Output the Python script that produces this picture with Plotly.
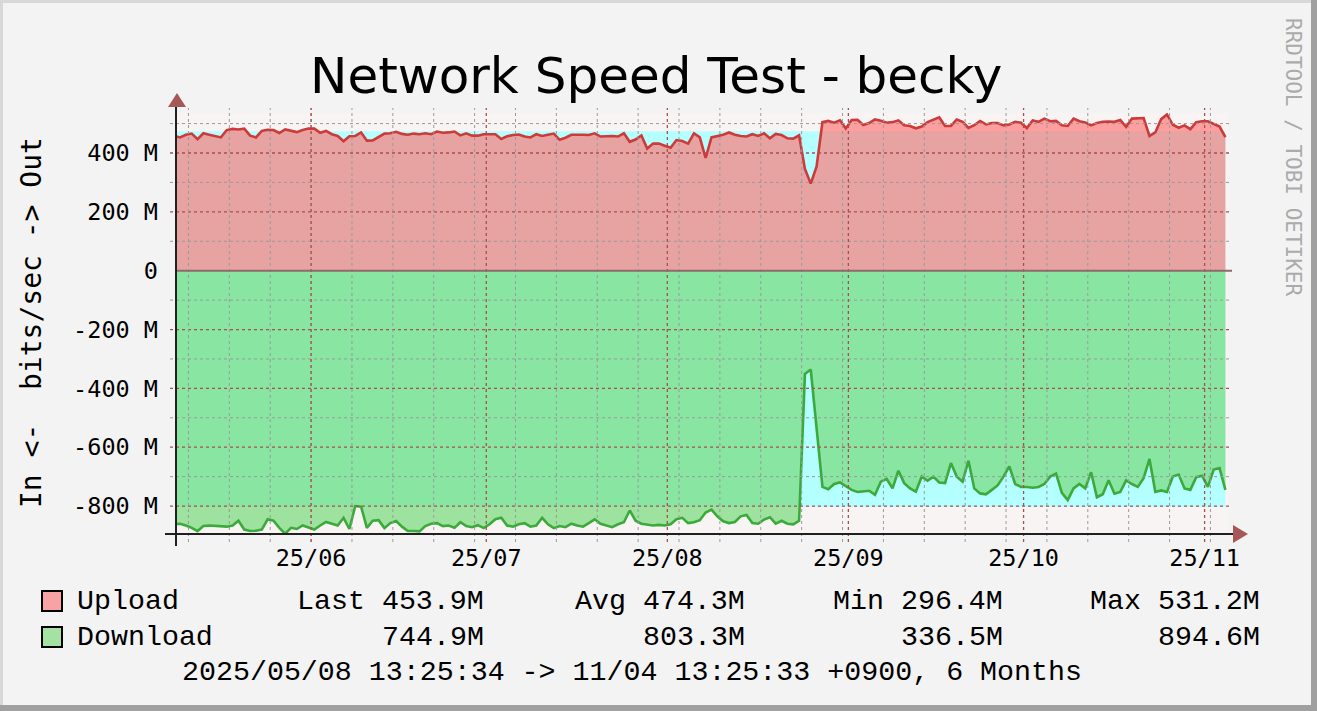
import plotly.graph_objects as go
import pandas as pd
import numpy as np

# ---------------- data (Mbit/s, one sample per day) ----------------
start_time = "2025-05-08 13:25:34"
end_time = "2025-11-04 13:25:33"

upload = [
    458, 453, 462, 466, 447, 467, 462, 458, 453, 478,
    482, 480, 483, 459, 453, 475, 479, 478, 468, 480,
    476, 471, 478, 483, 483, 469, 475, 464, 458, 440,
    457, 458, 470, 442, 443, 455, 466, 467, 472, 465,
    462, 466, 464, 467, 464, 473, 469, 470, 473, 460,
    467, 459, 459, 464, 464, 464, 448, 457, 461, 463,
    456, 453, 464, 458, 462, 466, 445, 452, 462, 463,
    462, 461, 467, 456, 457, 458, 456, 467, 438, 446,
    460, 415, 432, 432, 425, 418, 444, 441, 432, 467,
    453, 383, 453, 458, 462, 470, 462, 458, 456, 464,
    458, 467, 450, 465, 461, 450, 449, 460, 346, 296,
    354, 505, 509, 503, 511, 483, 512, 513, 495, 502,
    514, 510, 503, 505, 511, 494, 492, 484, 490, 505,
    514, 521, 492, 492, 514, 506, 485, 495, 509, 497,
    502, 502, 494, 497, 506, 503, 485, 511, 506, 517,
    508, 509, 494, 492, 517, 508, 504, 494, 502, 506,
    507, 506, 512, 489, 517, 519, 519, 458, 470, 515,
    531, 496, 486, 494, 481, 505, 508, 508, 500, 490,
    454,
]

download = [
    862, 860, 866, 874, 885, 868, 866, 867, 868, 870,
    866, 850, 880, 885, 884, 880, 845, 850, 874, 894,
    874, 878, 866, 874, 880, 866, 854, 860, 866, 840,
    878, 800, 802, 874, 850, 848, 875, 858, 851, 870,
    885, 885, 886, 868, 860, 858, 868, 866, 874, 855,
    868, 872, 865, 875, 862, 845, 840, 866, 870, 862,
    858, 870, 866, 840, 862, 875, 868, 872, 860, 866,
    870, 858, 845, 860, 866, 872, 862, 855, 815, 850,
    860, 862, 866, 864, 866, 862, 845, 840, 858, 855,
    848, 822, 812, 835, 852, 858, 854, 835, 830, 858,
    860, 846, 838, 860, 850, 860, 862, 850, 351, 336,
    544, 735, 743, 725, 720, 733, 745, 752, 751, 748,
    762, 717, 708, 740, 680, 722, 740, 751, 700, 714,
    700, 720, 722, 654, 700, 717, 646, 740, 757, 760,
    745, 730, 700, 665, 725, 735, 735, 738, 735, 725,
    700, 690, 755, 780, 740, 725, 740, 685, 770, 760,
    712, 758, 752, 713, 725, 735, 705, 640, 752, 747,
    752, 700, 693, 740, 745, 702, 697, 735, 676, 671,
    745,
]

upload_avg = 474.3
download_avg = 803.3

y_tick_vals = [400, 200, 0, -200, -400, -600, -800]
y_tick_text = ["400 M", "200 M", "0", "-200 M", "-400 M", "-600 M", "-800 M"]
x_tick_vals = ["2025-06-01", "2025-07-01", "2025-08-01", "2025-09-01", "2025-10-01", "2025-11-01"]
x_tick_text = ["25/06", "25/07", "25/08", "25/09", "25/10", "25/11"]

legend_names = ["Upload", "Download"]
legend_last = ["Last 453.9M", "744.9M"]
legend_avg = ["Avg 474.3M", "803.3M"]
legend_min = ["Min 296.4M", "336.5M"]
legend_max = ["Max 531.2M", "894.6M"]
footer = "2025/05/08 13:25:34 -> 11/04 13:25:33 +0900, 6 Months"
title = "Network Speed Test - becky"
y_title = "In <-  bits/sec -> Out"
watermark = "RRDTOOL / TOBI OETIKER"

# ---------------- layout geometry ----------------
W, H = 1317, 711
L, R, T, B = 176, 1228, 113, 534          # plot area in pixels
PX_PER_DAY = 5.84
X_START_PX = 174.2
Y_TOP, Y_BOT = 536, -895

t0 = pd.Timestamp(start_time)
t1 = pd.Timestamp(end_time)
dates = t0 + pd.to_timedelta(np.arange(len(upload)), unit="D")
x_range = [t0 + pd.Timedelta(days=(L - X_START_PX) / PX_PER_DAY),
           t0 + pd.Timedelta(days=(R - X_START_PX) / PX_PER_DAY)]


def px_x(p):
    return (p - L) / (R - L)


def px_y(p):
    return (B - p) / (B - T)


BACK = "#F3F3F3"
CANVAS = "#F9F4F4"
CYAN = "#B4FFFF"
UP_FILL = "rgba(255,118,118,0.68)"
DN_FILL = "rgba(118,218,122,0.70)"
UP_LINE = "#CC3A3A"
DN_LINE = "#3AAA3A"
MAJOR = "#A8504F"
MINOR = "#9A9A9A"

fig = go.Figure()
span_x = [t0, t1]
fig.add_trace(go.Scatter(x=span_x, y=[upload_avg, upload_avg], mode="lines", line=dict(width=0),
                         fill="tozeroy", fillcolor=CYAN, hoverinfo="skip", showlegend=False))
fig.add_trace(go.Scatter(x=span_x, y=[-download_avg, -download_avg], mode="lines", line=dict(width=0),
                         fill="tozeroy", fillcolor=CYAN, hoverinfo="skip", showlegend=False))
fig.add_trace(go.Scatter(x=dates, y=upload, mode="lines", line=dict(width=0),
                         fill="tozeroy", fillcolor=UP_FILL, showlegend=False))
fig.add_trace(go.Scatter(x=dates, y=[-v for v in download], mode="lines", line=dict(width=0),
                         fill="tozeroy", fillcolor=DN_FILL, showlegend=False))
fig.add_trace(go.Scatter(x=dates, y=upload, mode="lines", line=dict(width=2.6, color=UP_LINE),
                         name="Upload", showlegend=False))
fig.add_trace(go.Scatter(x=dates, y=[-v for v in download], mode="lines", line=dict(width=2.6, color=DN_LINE),
                         name="Download", showlegend=False))

shapes = []
# horizontal grid (every 100 M, major every 200 M)
for v in range(-800, 501, 100):
    if v == 0:
        continue
    major = v % 200 == 0
    shapes.append(dict(type="line", xref="paper", yref="y", x0=px_x(170), x1=px_x(1232), y0=v, y1=v,
                       line=dict(color=MAJOR if major else MINOR, width=1.3 if major else 1,
                                 dash="3px,3px"), layer="above"))
# vertical grid: weekly (Sundays) minor, month starts major
sundays = pd.date_range("2025-05-11", t1, freq="7D")
months = pd.to_datetime(x_tick_vals)
for d in sundays:
    shapes.append(dict(type="line", xref="x", yref="paper", x0=d, x1=d, y0=px_y(542), y1=px_y(108),
                       line=dict(color=MINOR, width=1, dash="3px,3px"), layer="above"))
for d in months:
    shapes.append(dict(type="line", xref="x", yref="paper", x0=d, x1=d, y0=px_y(542), y1=px_y(108),
                       line=dict(color=MAJOR, width=1.3, dash="3px,3px"), layer="above"))
# zero line
shapes.append(dict(type="line", xref="paper", yref="y", x0=px_x(176), x1=px_x(1232), y0=0, y1=0,
                   line=dict(color="#8E6A6A", width=2), layer="above"))
# axes
shapes.append(dict(type="line", xref="paper", yref="paper", x0=px_x(165), x1=px_x(1234),
                   y0=px_y(534), y1=px_y(534), line=dict(color="#202020", width=2), layer="above"))
shapes.append(dict(type="line", xref="paper", yref="paper", x0=px_x(176), x1=px_x(176),
                   y0=px_y(546), y1=px_y(106), line=dict(color="#202020", width=2), layer="above"))
# arrows
ax0, ax1, ay0, ay1 = px_x(168), px_x(186), px_y(107), px_y(93)
shapes.append(dict(type="path", xref="paper", yref="paper",
                   path=f"M {ax0} {ay0} L {ax1} {ay0} L {px_x(177)} {ay1} Z",
                   fillcolor="#A65858", line=dict(width=0), layer="above"))
bx0, bx1, by0, by1 = px_x(1233), px_x(1248), px_y(525), px_y(543)
shapes.append(dict(type="path", xref="paper", yref="paper",
                   path=f"M {bx0} {by0} L {bx0} {by1} L {bx1} {px_y(534)} Z",
                   fillcolor="#A65858", line=dict(width=0), layer="above"))
# legend swatches
sw_cols = ["#F7A3A3", "#A3E2A3"]
for k, yc in enumerate([601, 637]):
    shapes.append(dict(type="rect", xref="paper", yref="paper", x0=px_x(42), x1=px_x(62),
                       y0=px_y(yc + 10), y1=px_y(yc - 10), fillcolor=sw_cols[k],
                       line=dict(color="#000000", width=2)))
# frame bevel
shapes.append(dict(type="rect", xref="paper", yref="paper", x0=px_x(1311), x1=px_x(1318),
                   y0=px_y(712), y1=px_y(0), fillcolor="#A0A0A0", line=dict(width=0)))
shapes.append(dict(type="rect", xref="paper", yref="paper", x0=px_x(0), x1=px_x(1318),
                   y0=px_y(712), y1=px_y(705), fillcolor="#A0A0A0", line=dict(width=0)))
shapes.append(dict(type="rect", xref="paper", yref="paper", x0=px_x(0), x1=px_x(1311),
                   y0=px_y(3), y1=px_y(0), fillcolor="#D8D8D8", line=dict(width=0)))
shapes.append(dict(type="rect", xref="paper", yref="paper", x0=px_x(0), x1=px_x(3),
                   y0=px_y(705), y1=px_y(0), fillcolor="#D8D8D8", line=dict(width=0)))

MONO = "DejaVu Sans Mono"
LEG = "Liberation Mono"
annotations = []


def txt(x, y, s, anchor="left", size=28.3, family=LEG, color="#000000", angle=0):
    annotations.append(dict(x=px_x(x), y=px_y(y), xref="paper", yref="paper", text=s, showarrow=False,
                            xanchor=anchor, yanchor="middle", textangle=angle,
                            font=dict(family=family, size=size, color=color)))


for k, yc in enumerate([601, 637]):
    txt(75, yc, legend_names[k])
    txt(486, yc, legend_last[k], anchor="right")
    txt(747, yc, legend_avg[k], anchor="right")
    txt(1005, yc, legend_min[k], anchor="right")
    txt(1262, yc, legend_max[k], anchor="right")
txt(632, 672, footer, anchor="center")
txt(31, 323, y_title, anchor="center", size=28, family=MONO, angle=-90)
txt(1293, 157, watermark, anchor="center", size=21, family=MONO, color="#ABABAB", angle=90)
txt(656, 76, title, anchor="center", size=50, family="DejaVu Sans")

fig.update_layout(
    width=W, height=H,
    margin=dict(l=L, r=W - R, t=T, b=H - B, pad=0),
    paper_bgcolor=BACK, plot_bgcolor=CANVAS,
    shapes=shapes, annotations=annotations, showlegend=False,
    xaxis=dict(range=x_range, showgrid=False, zeroline=False, showline=False,
               tickvals=list(pd.to_datetime(x_tick_vals)), ticktext=x_tick_text, ticks="",
               tickfont=dict(family=MONO, size=23.5, color="#000000"), ticklabelstandoff=7),
    yaxis=dict(range=[Y_BOT, Y_TOP], showgrid=False, zeroline=False, showline=False,
               tickvals=y_tick_vals, ticktext=y_tick_text, ticks="",
               tickfont=dict(family=MONO, size=23.5, color="#000000"), ticklabelstandoff=17),
)

fig.write_html("out.html", config={"displayModeBar": False},
               post_script="document.body.style.margin='0px';")
